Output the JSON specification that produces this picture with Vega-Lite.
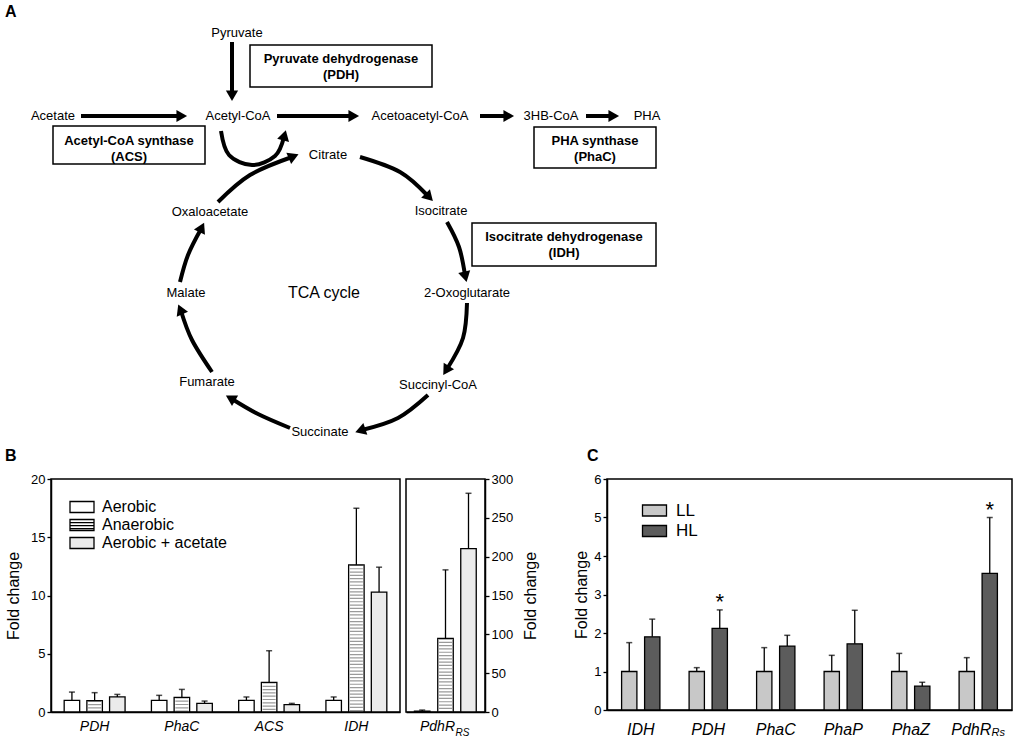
{
  "$schema": "https://vega.github.io/schema/vega-lite/v6.json",
  "padding": {"left": 4, "top": 0, "right": 0, "bottom": 0},
  "background": "white",
  "config": {
    "font": "Liberation Sans",
    "view": {"stroke": "#000", "strokeWidth": 1.5},
    "axis": {"domainColor": "#000", "domainWidth": 1.5, "tickColor": "#000", "tickWidth": 1.3, "labelColor": "#000", "titleColor": "#000", "titleFontWeight": "normal", "grid": false, "labelFont": "Liberation Sans", "titleFont": "Liberation Sans"},
    "legend": {"labelColor": "#000", "labelFont": "Liberation Sans"},
    "text": {"font": "Liberation Sans", "color": "#000"}
  },
  "datasets": {
    "labels": [
      {"label": "Pyruvate", "x": 237, "y": 33, "kind": "node"},
      {"label": "Acetate", "x": 53, "y": 116, "kind": "node"},
      {"label": "Acetyl-CoA", "x": 238, "y": 116, "kind": "node"},
      {"label": "Acetoacetyl-CoA", "x": 420, "y": 116, "kind": "node"},
      {"label": "3HB-CoA", "x": 551, "y": 116, "kind": "node"},
      {"label": "PHA", "x": 647, "y": 116, "kind": "node"},
      {"label": "Citrate", "x": 328, "y": 155, "kind": "node"},
      {"label": "Isocitrate", "x": 441, "y": 211, "kind": "node"},
      {"label": "2-Oxoglutarate", "x": 467, "y": 293, "kind": "node"},
      {"label": "Succinyl-CoA", "x": 438, "y": 385, "kind": "node"},
      {"label": "Succinate", "x": 320, "y": 432, "kind": "node"},
      {"label": "Fumarate", "x": 207, "y": 382, "kind": "node"},
      {"label": "Malate", "x": 186, "y": 293, "kind": "node"},
      {"label": "Oxaloacetate", "x": 210, "y": 212, "kind": "node"},
      {"label": "Pyruvate dehydrogenase", "x": 341, "y": 59, "kind": "enzyme"},
      {"label": "(PDH)", "x": 341, "y": 75, "kind": "enzyme"},
      {"label": "Acetyl-CoA synthase", "x": 129, "y": 141, "kind": "enzyme"},
      {"label": "(ACS)", "x": 129, "y": 157, "kind": "enzyme"},
      {"label": "PHA synthase", "x": 595, "y": 141, "kind": "enzyme"},
      {"label": "(PhaC)", "x": 595, "y": 157, "kind": "enzyme"},
      {"label": "Isocitrate dehydrogenase", "x": 564, "y": 237, "kind": "enzyme"},
      {"label": "(IDH)", "x": 564, "y": 253, "kind": "enzyme"},
      {"label": "TCA cycle", "x": 324, "y": 293, "kind": "tca"},
      {"label": "A", "x": 5, "y": 12, "kind": "panel"},
      {"label": "B", "x": 5, "y": 456, "kind": "panel"},
      {"label": "C", "x": 587, "y": 456, "kind": "panel"}
    ],
    "boxes": [
      {"name": "PDH", "x1": 250, "x2": 432, "y1": 45, "y2": 87},
      {"name": "ACS", "x1": 53, "x2": 205, "y1": 126, "y2": 164},
      {"name": "PhaC", "x1": 534, "x2": 656, "y1": 127, "y2": 168},
      {"name": "IDH", "x1": 472, "x2": 656, "y1": 223, "y2": 266}
    ],
    "straight": [
      {"x1": 232, "y1": 42, "x2": 232, "y2": 94},
      {"x1": 81, "y1": 116, "x2": 180, "y2": 116},
      {"x1": 277, "y1": 116, "x2": 352, "y2": 116},
      {"x1": 480, "y1": 116, "x2": 507, "y2": 116},
      {"x1": 586, "y1": 116, "x2": 612, "y2": 116}
    ],
    "curves": [
      {"arrow": "c1", "k": 1, "x": 360, "y": 157}, {"arrow": "c1", "k": 2, "x": 400, "y": 172}, {"arrow": "c1", "k": 3, "x": 428, "y": 196},
      {"arrow": "c2", "k": 1, "x": 447, "y": 222}, {"arrow": "c2", "k": 2, "x": 459, "y": 247}, {"arrow": "c2", "k": 3, "x": 465, "y": 275},
      {"arrow": "c3", "k": 1, "x": 467, "y": 303}, {"arrow": "c3", "k": 2, "x": 463, "y": 338}, {"arrow": "c3", "k": 3, "x": 447, "y": 369},
      {"arrow": "c4", "k": 1, "x": 428, "y": 395}, {"arrow": "c4", "k": 2, "x": 398, "y": 418}, {"arrow": "c4", "k": 3, "x": 362, "y": 430},
      {"arrow": "c5", "k": 1, "x": 290, "y": 428}, {"arrow": "c5", "k": 2, "x": 258, "y": 414}, {"arrow": "c5", "k": 3, "x": 232, "y": 399},
      {"arrow": "c6", "k": 1, "x": 212, "y": 372}, {"arrow": "c6", "k": 2, "x": 192, "y": 340}, {"arrow": "c6", "k": 3, "x": 181, "y": 311},
      {"arrow": "c7", "k": 1, "x": 180, "y": 282}, {"arrow": "c7", "k": 2, "x": 188, "y": 255}, {"arrow": "c7", "k": 3, "x": 201, "y": 229},
      {"arrow": "c8", "k": 1, "x": 218, "y": 202}, {"arrow": "c8", "k": 2, "x": 250, "y": 175}, {"arrow": "c8", "k": 3, "x": 292, "y": 157},
      {"arrow": "loop", "k": 1, "x": 221, "y": 131}, {"arrow": "loop", "k": 2, "x": 229, "y": 155}, {"arrow": "loop", "k": 3, "x": 252, "y": 165}, {"arrow": "loop", "k": 4, "x": 275, "y": 156}, {"arrow": "loop", "k": 5, "x": 284, "y": 137}
    ],
    "heads": [
      {"x": 232, "y": 94, "angle": 180}, {"x": 180, "y": 116, "angle": 90}, {"x": 352, "y": 116, "angle": 90}, {"x": 507, "y": 116, "angle": 90}, {"x": 612, "y": 116, "angle": 90},
      {"x": 428, "y": 196, "angle": 136}, {"x": 465, "y": 275, "angle": 167}, {"x": 447, "y": 369, "angle": 212}, {"x": 362, "y": 430, "angle": 251},
      {"x": 232, "y": 399, "angle": 300}, {"x": 181, "y": 311, "angle": 337}, {"x": 201, "y": 229, "angle": 26}, {"x": 292, "y": 157, "angle": 67}, {"x": 284, "y": 137, "angle": 15}
    ],
    "bdata": [
      {"gene": "PDH", "cond": "Aerobic", "mean": 1.0, "upper": 1.71},
      {"gene": "PDH", "cond": "Anaerobic", "mean": 0.97, "upper": 1.66},
      {"gene": "PDH", "cond": "Aerobic + acetate", "mean": 1.29, "upper": 1.51},
      {"gene": "PhaC", "cond": "Aerobic", "mean": 1.0, "upper": 1.43},
      {"gene": "PhaC", "cond": "Anaerobic", "mean": 1.26, "upper": 1.94},
      {"gene": "PhaC", "cond": "Aerobic + acetate", "mean": 0.74, "upper": 0.94},
      {"gene": "ACS", "cond": "Aerobic", "mean": 1.0, "upper": 1.29},
      {"gene": "ACS", "cond": "Anaerobic", "mean": 2.54, "upper": 5.26},
      {"gene": "ACS", "cond": "Aerobic + acetate", "mean": 0.63, "upper": 0.74},
      {"gene": "IDH", "cond": "Aerobic", "mean": 1.0, "upper": 1.29},
      {"gene": "IDH", "cond": "Anaerobic", "mean": 12.63, "upper": 17.49},
      {"gene": "IDH", "cond": "Aerobic + acetate", "mean": 10.29, "upper": 12.43},
      {"gene": "PdhR_RS", "cond": "Aerobic", "mean": 1.0, "upper": 2.5},
      {"gene": "PdhR_RS", "cond": "Anaerobic", "mean": 94.7, "upper": 183},
      {"gene": "PdhR_RS", "cond": "Aerobic + acetate", "mean": 210.4, "upper": 281.6}
    ],
    "cdata": [
      {"gene": "IDH", "cond": "LL", "mean": 1.0, "upper": 1.75, "sig": ""},
      {"gene": "IDH", "cond": "HL", "mean": 1.9, "upper": 2.36, "sig": ""},
      {"gene": "PDH", "cond": "LL", "mean": 1.0, "upper": 1.1, "sig": ""},
      {"gene": "PDH", "cond": "HL", "mean": 2.12, "upper": 2.6, "sig": "*"},
      {"gene": "PhaC", "cond": "LL", "mean": 1.0, "upper": 1.62, "sig": ""},
      {"gene": "PhaC", "cond": "HL", "mean": 1.66, "upper": 1.94, "sig": ""},
      {"gene": "PhaP", "cond": "LL", "mean": 1.0, "upper": 1.42, "sig": ""},
      {"gene": "PhaP", "cond": "HL", "mean": 1.72, "upper": 2.59, "sig": ""},
      {"gene": "PhaZ", "cond": "LL", "mean": 1.0, "upper": 1.47, "sig": ""},
      {"gene": "PhaZ", "cond": "HL", "mean": 0.62, "upper": 0.72, "sig": ""},
      {"gene": "PdhR_Rs", "cond": "LL", "mean": 1.0, "upper": 1.36, "sig": ""},
      {"gene": "PdhR_Rs", "cond": "HL", "mean": 3.55, "upper": 5.0, "sig": "*"}
    ]
  },
  "spacing": 6,
  "resolve": {"scale": {"fill": "independent"}, "legend": {"fill": "independent"}},
  "vconcat": [
    {
      "width": 979,
      "height": 466,
      "view": {"stroke": null},
      "encoding": {
        "x": {"type": "quantitative", "scale": {"domain": [51, 1030], "nice": false, "zero": false}, "axis": null},
        "y": {"type": "quantitative", "scale": {"domain": [0, 466], "nice": false, "zero": false, "reverse": true}, "axis": null}
      },
      "layer": [
        {
          "data": {"name": "boxes"},
          "mark": {"type": "rect", "fill": "#fff", "stroke": "#000", "strokeWidth": 1.5},
          "encoding": {"x": {"field": "x1", "type": "quantitative"}, "x2": {"field": "x2"}, "y": {"field": "y1", "type": "quantitative"}, "y2": {"field": "y2"}}
        },
        {
          "data": {"name": "straight"},
          "mark": {"type": "rule", "stroke": "#000", "strokeWidth": 4},
          "encoding": {"x": {"field": "x1", "type": "quantitative"}, "x2": {"field": "x2"}, "y": {"field": "y1", "type": "quantitative"}, "y2": {"field": "y2"}}
        },
        {
          "data": {"name": "curves"},
          "mark": {"type": "line", "interpolate": "cardinal", "stroke": "#000", "strokeWidth": 4},
          "encoding": {"x": {"field": "x", "type": "quantitative"}, "y": {"field": "y", "type": "quantitative"}, "detail": {"field": "arrow"}, "order": {"field": "k", "type": "quantitative"}}
        },
        {
          "data": {"name": "heads"},
          "mark": {"type": "point", "shape": "triangle", "filled": true, "size": 150, "fill": "#000", "strokeWidth": 0, "opacity": 1},
          "encoding": {"x": {"field": "x", "type": "quantitative"}, "y": {"field": "y", "type": "quantitative"}, "angle": {"field": "angle", "type": "quantitative", "scale": null}}
        },
        {
          "data": {"name": "labels"},
          "transform": [{"filter": "datum.kind === 'node'"}],
          "mark": {"type": "text", "fontSize": 13, "align": "center", "baseline": "middle"},
          "encoding": {"x": {"field": "x", "type": "quantitative"}, "y": {"field": "y", "type": "quantitative"}, "text": {"field": "label"}}
        },
        {
          "data": {"name": "labels"},
          "transform": [{"filter": "datum.kind === 'enzyme'"}],
          "mark": {"type": "text", "fontSize": 13, "fontWeight": "bold", "align": "center", "baseline": "middle"},
          "encoding": {"x": {"field": "x", "type": "quantitative"}, "y": {"field": "y", "type": "quantitative"}, "text": {"field": "label"}}
        },
        {
          "data": {"name": "labels"},
          "transform": [{"filter": "datum.kind === 'tca'"}],
          "mark": {"type": "text", "fontSize": 16, "align": "center", "baseline": "middle"},
          "encoding": {"x": {"field": "x", "type": "quantitative"}, "y": {"field": "y", "type": "quantitative"}, "text": {"field": "label"}}
        },
        {
          "data": {"name": "labels"},
          "transform": [{"filter": "datum.kind === 'panel'"}],
          "mark": {"type": "text", "fontSize": 16, "fontWeight": "bold", "align": "left", "baseline": "middle"},
          "encoding": {"x": {"field": "x", "type": "quantitative"}, "y": {"field": "y", "type": "quantitative"}, "text": {"field": "label"}}
        }
      ]
    },
    {
      "spacing": 33,
      "resolve": {"scale": {"fill": "independent"}, "legend": {"fill": "independent"}},
      "hconcat": [
        {
          "spacing": 4,
          "resolve": {"scale": {"fill": "independent"}, "legend": {"fill": "independent"}},
          "hconcat": [
            {
              "width": 349,
              "height": 233,
              "data": {"name": "bdata"},
              "transform": [{"filter": "datum.gene !== 'PdhR_RS'"}],
              "encoding": {
                "x": {"field": "gene", "type": "nominal", "sort": ["PDH", "PhaC", "ACS", "IDH"], "scale": {"paddingInner": 0, "paddingOuter": 0},
                  "axis": {"title": null, "labelAngle": 0, "labelFontStyle": "italic", "labelFontSize": 14, "ticks": false, "tickSize": 0, "labelPadding": 7}},
                "y": {"field": "mean", "type": "quantitative", "scale": {"domain": [0, 20], "nice": false},
                  "axis": {"values": [0, 5, 10, 15, 20], "title": "Fold change", "titleFontSize": 16, "titlePadding": 9, "labelFontSize": 13, "tickSize": 4, "labelPadding": 2}}
              },
              "layer": [
                {
                  "transform": [{"filter": "datum.cond === 'Aerobic'"}],
                  "mark": {"type": "bar", "width": 15.5, "xOffset": -22.7, "stroke": "#000", "strokeWidth": 1.3},
                  "encoding": {
                    "fill": {"field": "cond", "type": "nominal",
                      "scale": {"domain": ["Aerobic", "Anaerobic", "Aerobic + acetate"], "range": ["#ffffff", "#ffffff", "#ebebeb"]},
                      "legend": {"title": null, "orient": "none", "legendX": 23, "legendY": 20, "symbolType": "M-2,-0.92H2V0.92H-2Z", "symbolSize": 144, "symbolStrokeColor": "#000", "symbolStrokeWidth": 1.3, "labelFontSize": 16, "labelOffset": 12, "rowPadding": 0,
                        "encode": {"symbols": {"update": {"stroke": {"value": "#000"}, "shape": {"signal": "datum.value === 'Anaerobic' ? 'M-2,-0.92H2V0.92H-2Z M-2,-0.4H2 M-2,0.1H2 M-2,0.6H2' : 'M-2,-0.92H2V0.92H-2Z'"}}}}}
                    }
                  }
                },
                {
                  "transform": [{"filter": "datum.cond === 'Anaerobic'"}],
                  "mark": {"type": "bar", "width": 15.5, "xOffset": 0},
                  "encoding": {"fill": {"field": "cond", "type": "nominal", "scale": {"domain": ["Aerobic", "Anaerobic", "Aerobic + acetate"], "range": ["#ffffff", "#ffffff", "#ebebeb"]}}}
                },
                {
                  "transform": [{"filter": "datum.cond === 'Anaerobic'"}],
                  "mark": {"type": "rule", "strokeWidth": 13, "strokeDash": [1.2, 2.1], "color": "#9a9a9a"},
                  "encoding": {"y2": {"datum": 0}}
                },
                {
                  "transform": [{"filter": "datum.cond === 'Anaerobic'"}],
                  "mark": {"type": "bar", "width": 15.5, "xOffset": 0, "fillOpacity": 0, "stroke": "#000", "strokeWidth": 1.3}
                },
                {
                  "transform": [{"filter": "datum.cond === 'Aerobic + acetate'"}],
                  "mark": {"type": "bar", "width": 15.5, "xOffset": 22.7, "stroke": "#000", "strokeWidth": 1.3},
                  "encoding": {"fill": {"field": "cond", "type": "nominal", "scale": {"domain": ["Aerobic", "Anaerobic", "Aerobic + acetate"], "range": ["#ffffff", "#ffffff", "#ebebeb"]}}}
                },
                {
                  "transform": [{"filter": "datum.cond === 'Aerobic'"}],
                  "mark": {"type": "rule", "color": "#000", "strokeWidth": 1.3, "xOffset": -22.7},
                  "encoding": {"y2": {"field": "upper"}}
                },
                {
                  "transform": [{"filter": "datum.cond === 'Anaerobic'"}],
                  "mark": {"type": "rule", "color": "#000", "strokeWidth": 1.3, "xOffset": 0},
                  "encoding": {"y2": {"field": "upper"}}
                },
                {
                  "transform": [{"filter": "datum.cond === 'Aerobic + acetate'"}],
                  "mark": {"type": "rule", "color": "#000", "strokeWidth": 1.3, "xOffset": 22.7},
                  "encoding": {"y2": {"field": "upper"}}
                },
                {
                  "transform": [{"filter": "datum.cond === 'Aerobic'"}],
                  "mark": {"type": "tick", "color": "#000", "thickness": 1.5, "size": 6, "orient": "horizontal", "xOffset": -22.7},
                  "encoding": {"y": {"field": "upper", "type": "quantitative", "title": "Fold change"}}
                },
                {
                  "transform": [{"filter": "datum.cond === 'Anaerobic'"}],
                  "mark": {"type": "tick", "color": "#000", "thickness": 1.5, "size": 6, "orient": "horizontal", "xOffset": 0},
                  "encoding": {"y": {"field": "upper", "type": "quantitative", "title": "Fold change"}}
                },
                {
                  "transform": [{"filter": "datum.cond === 'Aerobic + acetate'"}],
                  "mark": {"type": "tick", "color": "#000", "thickness": 1.5, "size": 6, "orient": "horizontal", "xOffset": 22.7},
                  "encoding": {"y": {"field": "upper", "type": "quantitative", "title": "Fold change"}}
                }
              ]
            },
            {
              "width": 79,
              "height": 233,
              "data": {"name": "bdata"},
              "transform": [{"filter": "datum.gene === 'PdhR_RS'"}],
              "encoding": {
                "x": {"field": "gene", "type": "nominal", "scale": {"paddingInner": 0, "paddingOuter": 0},
                  "axis": {"title": null, "labelAngle": 0, "labelExpr": "'PdhR'", "labelOffset": -8, "labelFontStyle": "italic", "labelFontSize": 14, "ticks": false, "tickSize": 0, "labelPadding": 7}},
                "y": {"field": "mean", "type": "quantitative", "scale": {"domain": [0, 300], "nice": false},
                  "axis": {"orient": "right", "values": [0, 50, 100, 150, 200, 250, 300], "title": "Fold change", "titleFontSize": 16, "titleAngle": 270, "titleBaseline": "top", "titlePadding": 10, "labelFontSize": 13, "tickSize": 4, "labelPadding": 2}}
              },
              "layer": [
                {
                  "transform": [{"filter": "datum.cond === 'Aerobic'"}],
                  "mark": {"type": "bar", "width": 15.5, "xOffset": -23.3, "stroke": "#000", "strokeWidth": 1.3, "fill": "#ffffff"}
                },
                {
                  "transform": [{"filter": "datum.cond === 'Anaerobic'"}],
                  "mark": {"type": "bar", "width": 15.5, "xOffset": 0, "fill": "#ffffff"}
                },
                {
                  "transform": [{"filter": "datum.cond === 'Anaerobic'"}],
                  "mark": {"type": "rule", "strokeWidth": 13, "strokeDash": [1.2, 2.1], "color": "#9a9a9a"},
                  "encoding": {"y2": {"datum": 0}}
                },
                {
                  "transform": [{"filter": "datum.cond === 'Anaerobic'"}],
                  "mark": {"type": "bar", "width": 15.5, "xOffset": 0, "fillOpacity": 0, "stroke": "#000", "strokeWidth": 1.3}
                },
                {
                  "transform": [{"filter": "datum.cond === 'Aerobic + acetate'"}],
                  "mark": {"type": "bar", "width": 15.5, "xOffset": 23, "stroke": "#000", "strokeWidth": 1.3, "fill": "#ebebeb"}
                },
                {
                  "transform": [{"filter": "datum.cond === 'Aerobic'"}],
                  "mark": {"type": "rule", "color": "#000", "strokeWidth": 1.3, "xOffset": -23.3},
                  "encoding": {"y2": {"field": "upper"}}
                },
                {
                  "transform": [{"filter": "datum.cond === 'Anaerobic'"}],
                  "mark": {"type": "rule", "color": "#000", "strokeWidth": 1.3, "xOffset": 0},
                  "encoding": {"y2": {"field": "upper"}}
                },
                {
                  "transform": [{"filter": "datum.cond === 'Aerobic + acetate'"}],
                  "mark": {"type": "rule", "color": "#000", "strokeWidth": 1.3, "xOffset": 23},
                  "encoding": {"y2": {"field": "upper"}}
                },
                {
                  "transform": [{"filter": "datum.cond === 'Aerobic'"}],
                  "mark": {"type": "tick", "color": "#000", "thickness": 1.5, "size": 6, "orient": "horizontal", "xOffset": -23.3},
                  "encoding": {"y": {"field": "upper", "type": "quantitative", "title": "Fold change"}}
                },
                {
                  "transform": [{"filter": "datum.cond === 'Anaerobic'"}],
                  "mark": {"type": "tick", "color": "#000", "thickness": 1.5, "size": 6, "orient": "horizontal", "xOffset": 0},
                  "encoding": {"y": {"field": "upper", "type": "quantitative", "title": "Fold change"}}
                },
                {
                  "transform": [{"filter": "datum.cond === 'Aerobic + acetate'"}],
                  "mark": {"type": "tick", "color": "#000", "thickness": 1.5, "size": 6, "orient": "horizontal", "xOffset": 23},
                  "encoding": {"y": {"field": "upper", "type": "quantitative", "title": "Fold change"}}
                },
                {
                  "transform": [{"filter": "datum.cond === 'Aerobic'"}],
                  "mark": {"type": "text", "text": "RS", "fontSize": 10, "fontStyle": "italic", "dx": 17, "dy": 21, "baseline": "middle", "align": "center"},
                  "encoding": {"y": {"datum": 0}}
                }
              ]
            }
          ]
        },
        {
          "width": 405,
          "height": 231,
          "data": {"name": "cdata"},
          "encoding": {
            "x": {"field": "gene", "type": "nominal", "sort": ["IDH", "PDH", "PhaC", "PhaP", "PhaZ", "PdhR_Rs"], "scale": {"paddingInner": 0, "paddingOuter": 0},
              "axis": {"title": null, "labelAngle": 0, "labelExpr": "datum.value === 'PdhR_Rs' ? 'PdhR' : datum.value", "labelOffset": {"condition": {"test": "datum.value === 'PdhR_Rs'", "value": -7}, "value": 0}, "labelFontStyle": "italic", "labelFontSize": 16, "ticks": false, "tickSize": 0, "labelPadding": 11}},
            "y": {"field": "mean", "type": "quantitative", "scale": {"domain": [0, 6], "nice": false},
              "axis": {"values": [0, 1, 2, 3, 4, 5, 6], "title": "Fold change", "titleFontSize": 16, "titlePadding": 4, "labelFontSize": 13, "tickSize": 4, "labelPadding": 2}}
          },
          "layer": [
            {
              "transform": [{"filter": "datum.cond === 'LL'"}],
              "mark": {"type": "bar", "width": 15.3, "xOffset": -11.5, "stroke": "#000", "strokeWidth": 1.3},
              "encoding": {
                "fill": {"field": "cond", "type": "nominal", "scale": {"domain": ["LL", "HL"], "range": ["#c8c8c8", "#5c5c5c"]},
                  "legend": {"title": null, "orient": "none", "legendX": 39, "legendY": 23, "symbolType": "M-2,-0.92H2V0.92H-2Z", "symbolSize": 144, "symbolStrokeColor": "#000", "symbolStrokeWidth": 1.3, "labelFontSize": 17, "labelOffset": 13, "rowPadding": 2.5,
                    "encode": {"symbols": {"update": {"stroke": {"value": "#000"}}}}}}
              }
            },
            {
              "transform": [{"filter": "datum.cond === 'HL'"}],
              "mark": {"type": "bar", "width": 15.3, "xOffset": 11.5, "stroke": "#000", "strokeWidth": 1.3},
              "encoding": {"fill": {"field": "cond", "type": "nominal", "scale": {"domain": ["LL", "HL"], "range": ["#c8c8c8", "#5c5c5c"]}}}
            },
            {
              "transform": [{"filter": "datum.cond === 'LL'"}],
              "mark": {"type": "rule", "color": "#000", "strokeWidth": 1.3, "xOffset": -11.5},
              "encoding": {"y2": {"field": "upper"}}
            },
            {
              "transform": [{"filter": "datum.cond === 'HL'"}],
              "mark": {"type": "rule", "color": "#000", "strokeWidth": 1.3, "xOffset": 11.5},
              "encoding": {"y2": {"field": "upper"}}
            },
            {
              "transform": [{"filter": "datum.cond === 'LL'"}],
              "mark": {"type": "tick", "color": "#000", "thickness": 1.5, "size": 6, "orient": "horizontal", "xOffset": -11.5},
              "encoding": {"y": {"field": "upper", "type": "quantitative", "title": "Fold change"}}
            },
            {
              "transform": [{"filter": "datum.cond === 'HL'"}],
              "mark": {"type": "tick", "color": "#000", "thickness": 1.5, "size": 6, "orient": "horizontal", "xOffset": 11.5},
              "encoding": {"y": {"field": "upper", "type": "quantitative", "title": "Fold change"}}
            },
            {
              "transform": [{"filter": "datum.sig === '*'"}],
              "mark": {"type": "text", "fontSize": 22, "dy": -8, "dx": 11.5, "baseline": "middle", "align": "center"},
              "encoding": {"y": {"field": "upper", "type": "quantitative", "title": "Fold change"}, "text": {"field": "sig"}}
            },
            {
              "transform": [{"filter": "datum.gene === 'PdhR_Rs' && datum.cond === 'LL'"}],
              "mark": {"type": "text", "text": "Rs", "fontSize": 11, "fontStyle": "italic", "dx": 20, "dy": 23, "baseline": "middle", "align": "center"},
              "encoding": {"y": {"datum": 0}}
            }
          ]
        }
      ]
    }
  ]
}
